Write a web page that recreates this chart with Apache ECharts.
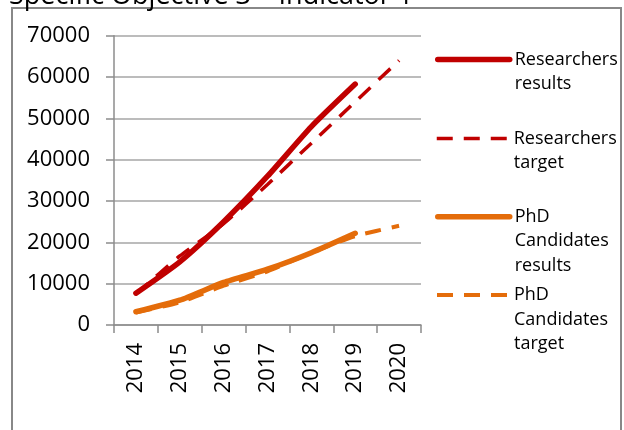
<!DOCTYPE html>
<html>
<head>
<meta charset="utf-8">
<script src="https://cdn.jsdelivr.net/npm/echarts@6/dist/echarts.min.js"></script>
<style>
  html, body { margin: 0; padding: 0; background: #fff; }
  #chart { width: 624px; height: 430px; }
</style>
</head>
<body>
<div id="chart"></div>
<script>
// 数据
const years = ["2014", "2015", "2016", "2017", "2018", "2019", "2020"];
const researchersResults = [7700, 15300, 25000, 36000, 48000, 58300, null];
const researchersTarget = [7500, 16700, 24500, 34000, 44000, 54000, 64000];
const phdResults = [3200, 6000, 10300, 13500, 17500, 22200, null];
const phdTarget = [3000, 5500, 9500, 13000, 17500, 21500, 24000];
const seriesNames = [
  "Researchers results",
  "Researchers target",
  "PhD Candidates results",
  "PhD Candidates target",
];
// 图例里的换行文字
const legendLines = [
  ["Researchers", "results"],
  ["Researchers", "target"],
  ["PhD", "Candidates", "results"],
  ["PhD", "Candidates", "target"],
];

const RED = "#C00000";
const ORANGE = "#E46C0A";
const FONT = "Open Sans";

// 每条线的样式，图例也用同样的
const lineStyles = [
  { color: RED, width: 5.5, cap: "round" },
  { color: RED, width: 3.5, type: [16, 11] },
  { color: ORANGE, width: 5.5, cap: "round" },
  { color: ORANGE, width: 4, type: [16, 11] },
];

const chartInstance = echarts.init(document.getElementById("chart"));

// 每个图例单独放，前面补空行让图标对齐第一行文字
const legendCenters = [59.5, 138.5, 216.7, 295];
const LH = 24.5;
const legends = seriesNames.map((name, i) => {
  const lines = legendLines[i];
  const blank = new Array(lines.length - 1).fill("\u00a0");
  const text = blank.concat(lines).join("\n");
  const total = lines.length * 2 - 1;
  return {
    data: [name],
    orient: "vertical",
    left: 435,
    top: legendCenters[i] - (LH * total) / 2,
    padding: 0,
    itemWidth: 72,
    itemHeight: 14,
    itemGap: 0,
    formatter: () => text,
    itemStyle: { opacity: 0, borderWidth: 0 },
    lineStyle: Object.assign({}, lineStyles[i]),
    textStyle: {
      fontFamily: FONT,
      fontSize: 18,
      lineHeight: LH,
      color: "#000",
    },
  };
});

const option = {
  animation: false,
  title: {
    text: "Specific Objective 3 \u2013 Indicator 1",
    left: 9,
    top: -17,
    padding: 0,
    textStyle: {
      fontFamily: FONT,
      fontSize: 27,
      fontWeight: "normal",
      color: "#000",
    },
  },
  graphic: [
    {
      type: "rect",
      shape: { x: 12, y: 8, width: 609, height: 440 },
      style: { fill: "none", stroke: "#888", lineWidth: 2 },
      silent: true,
    },
  ],
  legend: legends,
  grid: {
    left: 114,
    right: 203,
    top: 35.7,
    bottom: 105,
    containLabel: false,
  },
  xAxis: {
    type: "category",
    data: years,
    boundaryGap: true,
    axisLine: { lineStyle: { color: "#8c8c8c", width: 1.5 } },
    axisTick: { show: true, length: 8, alignWithLabel: false, lineStyle: { color: "#8c8c8c", width: 1.5 } },
    axisLabel: {
      rotate: 90,
      margin: 18,
      fontFamily: FONT,
      fontSize: 22,
      color: "#000",
    },
  },
  yAxis: {
    type: "value",
    min: 0,
    max: 70000,
    interval: 10000,
    axisLine: { show: true, lineStyle: { color: "#8c8c8c", width: 1.5 } },
    axisTick: { show: true, length: 8, lineStyle: { color: "#8c8c8c", width: 1.5 } },
    axisLabel: {
      margin: 24,
      fontFamily: FONT,
      fontSize: 22,
      color: "#000",
      formatter: (v) => String(v),
    },
    splitLine: { lineStyle: { color: "#a6a6a6", width: 1.5 } },
  },
  series: [
    {
      name: seriesNames[0],
      type: "line",
      data: researchersResults,
      symbol: "none",
      smooth: 0.2,
      z: 4,
      lineStyle: lineStyles[0],
      itemStyle: { color: RED },
    },
    {
      name: seriesNames[1],
      type: "line",
      data: researchersTarget,
      symbol: "none",
      smooth: 0.2,
      z: 3,
      lineStyle: lineStyles[1],
      itemStyle: { color: RED },
    },
    {
      name: seriesNames[2],
      type: "line",
      data: phdResults,
      symbol: "none",
      smooth: 0.2,
      z: 4,
      lineStyle: lineStyles[2],
      itemStyle: { color: ORANGE },
    },
    {
      name: seriesNames[3],
      type: "line",
      data: phdTarget,
      symbol: "none",
      smooth: 0.2,
      z: 3,
      lineStyle: lineStyles[3],
      itemStyle: { color: ORANGE },
    },
  ],
};

chartInstance.setOption(option);
</script>
</body>
</html>
